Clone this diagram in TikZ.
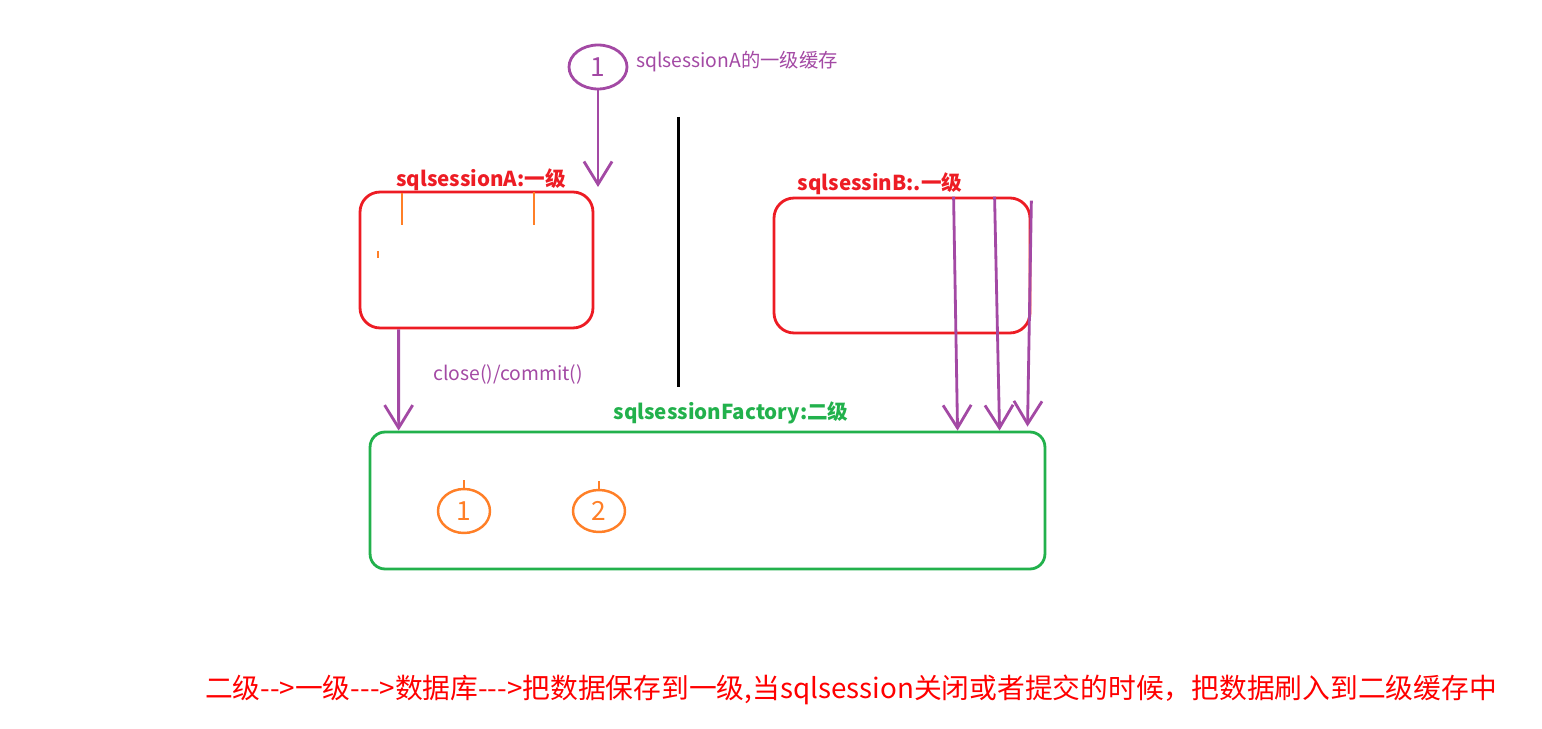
\documentclass[tikz,border=0pt]{standalone}
\usepackage{fontspec}
\newfontfamily\cjkfont{Noto Sans CJK SC}
\usetikzlibrary{arrows.meta,shapes.geometric}
\definecolor{cachepurple}{HTML}{A349A4}
\definecolor{cachered}{HTML}{ED1C24}
\definecolor{cachegreen}{HTML}{22B14C}
\definecolor{cacheorange}{HTML}{FF7F27}

\begin{document}
\begin{tikzpicture}[x=0.02cm, y=-0.02cm, font=\cjkfont,
    box/.style={draw, rounded corners=0.4cm, line width=1.6pt, inner sep=0pt},
    flow/.style={draw=cachepurple, line width=1.6pt, -{Straight Barb[length=13pt,width=16pt]}},
    orangetick/.style={draw=cacheorange, line width=1.4pt},
    circ/.style={ellipse, draw, inner sep=0pt, font=\cjkfont\fontsize{15}{15}\selectfont},
    boxlabel/.style={font=\cjkfont\bfseries\fontsize{11.7}{13}\selectfont}]
  \useasboundingbox (0,0) rectangle (1542,729);
  % first-level caches
  \node [box, draw=cachered, minimum width=4.66cm, minimum height=2.72cm] (A) at (476.5,260) {};
  \node [box, draw=cachered, minimum width=5.12cm, minimum height=2.7cm] (B) at (902,265.5) {};
  \node [box, draw=cachegreen, rounded corners=0.3cm, minimum width=13.5cm, minimum height=2.74cm] (C) at (707.5,500.5) {};
  \node [boxlabel, text=cachered] (Alabel) at (481,180) {sqlsessionA:一级};
  \node [boxlabel, text=cachered] (Blabel) at (880,184) {sqlsessinB:.一级};
  \node [boxlabel, text=cachegreen] (Clabel) at (731,413) {sqlsessionFactory:二级};
  % sqlsessionA cache
  \node [circ, draw=cachepurple, line width=1.6pt, text=cachepurple, minimum width=1.16cm, minimum height=0.88cm] (one) at (598,67) {1};
  \node [text=cachepurple, anchor=west, font=\cjkfont\fontsize{11}{13}\selectfont] (onelabel) at (630,62) {sqlsessionA的一级缓存};
  \coordinate (tipA) at (598,187);
  \draw [flow] (one) to (tipA);
  \draw [line width=1.7pt] (678,117) -- (678,387);
  % ticks in A
  \draw [orangetick] (402,193) -- (402,225);
  \draw [orangetick] (534,192) -- (534,225);
  \draw [draw=cacheorange, line width=0.6pt] (378,251) -- (378,258);
  % A to factory
  \draw [flow] ([xshift=0.8cm]A.south west) to ([xshift=0.6cm]C.north west);
  \node [text=cachepurple, font=\cjkfont\fontsize{11}{13}\selectfont] (commit) at (508,374) {close()/commit()};
  % B to factory
  \draw [flow] ([xshift=3.62cm]B.north west) to ([xshift=11.78cm]C.north west);
  \draw [flow] ([xshift=4.44cm]B.north west) to ([xshift=12.62cm]C.north west);
  \draw [flow] ([yshift=-0.08cm]B.north east) to ([xshift=13.18cm,yshift=0.08cm]C.north west);
  % second-level cache entries
  \node [circ, orangetick, text=cacheorange, minimum width=1.04cm, minimum height=0.88cm] (cone) at (464,511) {1};
  \node [circ, orangetick, text=cacheorange, minimum width=1.04cm, minimum height=0.84cm] (ctwo) at (599,511) {2};
  \draw [orangetick] (cone.north) -- ++(0,-8);
  \draw [orangetick] (ctwo.north) -- ++(0,-8);
  \node [text=red, font=\cjkfont\fontsize{15.8}{17}\selectfont] (note) at (851,690) {二级-->一级--->数据库--->把数据保存到一级,当sqlsession关闭或者提交的时候，把数据刷入到二级缓存中};
\end{tikzpicture}
\end{document}
